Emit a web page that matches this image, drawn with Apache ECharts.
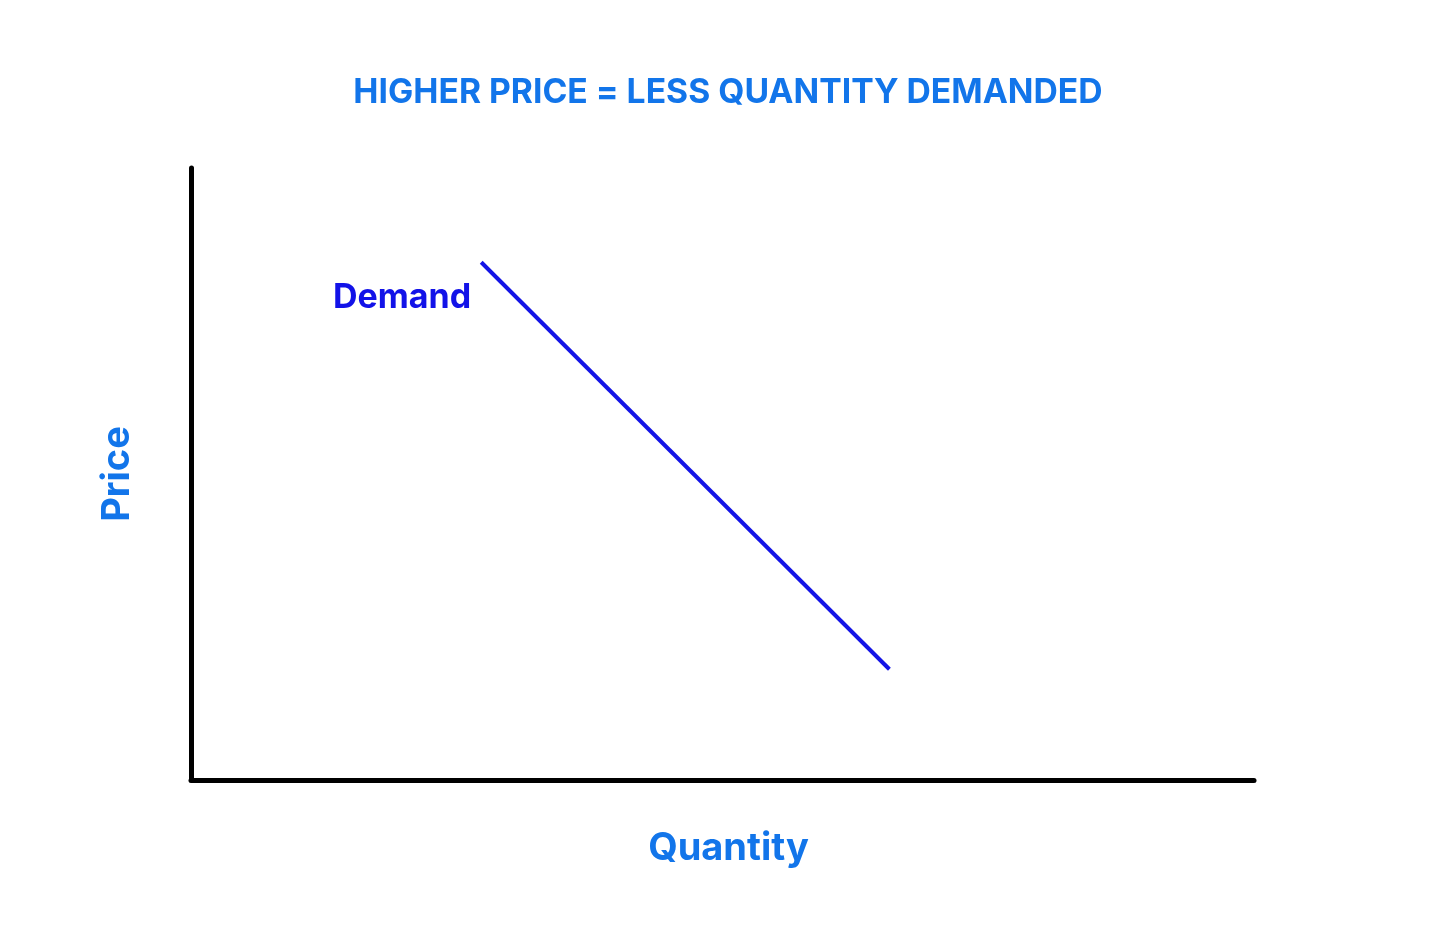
<!DOCTYPE html>
<html><head><meta charset="utf-8">
<script src="https://cdn.jsdelivr.net/npm/echarts@6/dist/echarts.min.js"></script>
<style>html,body{margin:0;padding:0;background:#fff}#c{width:1456px;height:946px}</style>
</head><body><div id="c"></div>
<script>
const titleText = "HIGHER PRICE = LESS QUANTITY DEMANDED";
const xName = "Quantity";
const yName = "Price";
const seriesName = "Demand";
const demandQuantity = [27.3, 65.7];
const demandPrice = [84.6, 18.1];

const chart = echarts.init(document.getElementById('c'));
const font = 'Inter, "Noto Sans", sans-serif';
const lineData = demandQuantity.map((q, i) => {
  const item = { value: [q, demandPrice[i]] };
  if (i === 0) {
    item.label = {
      show: true, position: 'left', distance: 10, offset: [0, 36],
      formatter: seriesName,
      fontFamily: font, fontWeight: 'bold', fontSize: 34, color: '#1212e8'
    };
  }
  return item;
});
chart.setOption({
  animation: false,
  backgroundColor: '#fff',
  title: {
    text: titleText, left: 'center', top: 71, padding: [5, 5, 5, 18],
    textStyle: { fontFamily: font, fontWeight: 'bold', fontSize: 33.7, color: '#1275ea' }
  },
  grid: { left: 191, right: 202, top: 168, bottom: 166, containLabel: false },
  xAxis: {
    type: 'value', min: 0, max: 100,
    name: xName, nameLocation: 'middle', nameGap: 50,
    nameTextStyle: { fontFamily: font, fontWeight: 'bold', fontSize: 38, color: '#1275ea', padding: [0, 0, 0, 12] },
    axisLine: { show: true, onZero: false, lineStyle: { color: '#000', width: 5 } },
    axisTick: { show: false }, axisLabel: { show: false }, splitLine: { show: false }
  },
  yAxis: {
    type: 'value', min: 0, max: 100,
    name: yName, nameLocation: 'middle', nameGap: 54,
    nameTextStyle: { fontFamily: font, fontWeight: 'bold', fontSize: 38, color: '#1275ea' },
    axisLine: { show: true, onZero: false, lineStyle: { color: '#000', width: 5 } },
    axisTick: { show: false }, axisLabel: { show: false }, splitLine: { show: false }
  },
  series: [{
    type: 'line', name: seriesName,
    data: lineData,
    symbol: 'circle', symbolSize: 0, showSymbol: true,
    lineStyle: { color: '#1414e6', width: 4 },
    itemStyle: { color: '#1414e6' },
    label: { show: false }
  }]
});
</script></body></html>
